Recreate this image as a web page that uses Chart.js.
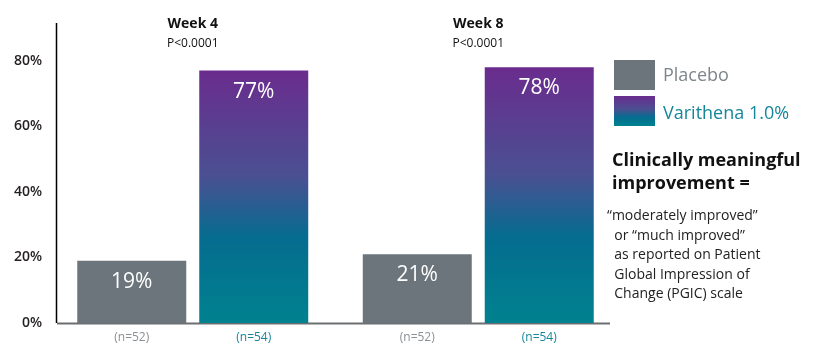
<!DOCTYPE html>
<html>
<head>
<meta charset="utf-8">
<script src="https://cdn.jsdelivr.net/npm/chart.js@4.4.1/dist/chart.umd.min.js"></script>
<style>
  html, body { margin: 0; padding: 0; background: #fff; }
  #wrap { position: relative; width: 817px; height: 344px; font-family: "Open Sans", "Noto Sans", sans-serif; }
  #chart { position: absolute; left: 0; top: 0; }
  .leg-box { position: absolute; left: 614px; width: 41px; height: 30px; }
  .leg-txt { position: absolute; left: 663px; font-size: 18px; line-height: 20px; }
  #note-title { position: absolute; left: 612px; top: 148px; font-size: 18px; font-weight: 700; line-height: 23px; color: #111; }
  #note-body { position: absolute; left: 607px; top: 205px; font-size: 14px; line-height: 19.5px; color: #222; white-space: pre; }
</style>
</head>
<body>
<div id="wrap">
  <canvas id="chart" width="817" height="344"></canvas>
  <div class="leg-box" style="top:60px;background:#6b757b"></div>
  <div class="leg-txt" style="top:64px;color:#7d868b">Placebo</div>
  <div class="leg-box" style="top:96px;background:linear-gradient(#6a2c8e 0%, #4a5092 45%, #056c8f 70%, #00828f 100%)"></div>
  <div class="leg-txt" style="top:102px;color:#14879a;font-size:18px">Varithena 1.0%</div>
  <div id="note-title">Clinically meaningful<br>improvement =</div>
  <div id="note-body">“moderately improved”
  or “much improved”
  as reported on Patient
  Global Impression of
  Change (PGIC) scale</div>
</div>
<script>
// data
const weeks = ['Week 4', 'Week 8'];
const pValues = ['P<0.0001', 'P<0.0001'];
const placebo = [19, 21];
const varithena = [77, 78];
const nPlacebo = ['(n=52)', '(n=52)'];
const nVarithena = ['(n=54)', '(n=54)'];
const yTicks = [0, 20, 40, 60, 80];

const FONT = '"Open Sans", "Noto Sans", sans-serif';

function barGradient(context) {
  const chart = context.chart;
  const { ctx, chartArea, scales } = chart;
  if (!chartArea) return '#00828f';
  const top = scales.y.getPixelForValue(context.raw);
  const bottom = scales.y.getPixelForValue(0);
  const g = ctx.createLinearGradient(0, top, 0, bottom);
  g.addColorStop(0, '#6a2c8e');
  g.addColorStop(0.42, '#4a5092');
  g.addColorStop(0.66, '#056c8f');
  g.addColorStop(1, '#00828f');
  return g;
}

// axis lines, group headers, value labels, n labels
const extras = {
  id: 'extras',
  beforeDatasetsDraw(chart) {
    const { ctx, chartArea, scales } = chart;
    ctx.save();
    const y0 = scales.y.getPixelForValue(0);
    ctx.strokeStyle = '#6d6e70';
    ctx.lineWidth = 2;
    ctx.beginPath();
    ctx.moveTo(chartArea.left + 7, y0 + 0.5);
    ctx.lineTo(chartArea.right - 11, y0 + 0.5);
    ctx.stroke();
    ctx.strokeStyle = '#000';
    ctx.lineWidth = 1.5;
    ctx.beginPath();
    ctx.moveTo(chartArea.left + 6.5, chartArea.top);
    ctx.lineTo(chartArea.left + 6.5, y0);
    ctx.stroke();
    ctx.restore();
  },
  afterDatasetsDraw(chart) {
    const { ctx, scales } = chart;
    ctx.save();
    ctx.textAlign = 'center';
    ctx.textBaseline = 'middle';
    weeks.forEach((w, i) => {
      const x = scales.x.getPixelForValue(i);
      ctx.fillStyle = '#111';
      ctx.font = '700 14px ' + FONT;
      ctx.fillText(w, x, 24);
      ctx.font = '400 12px ' + FONT;
      ctx.fillText(pValues[i], x, 44);
    });
    const nLabels = [nPlacebo, nVarithena];
    const nColors = ['#8a9094', '#14879a'];
    chart.data.datasets.forEach((ds, di) => {
      chart.getDatasetMeta(di).data.forEach((bar, i) => {
        ctx.fillStyle = '#fff';
        ctx.font = '500 21px ' + FONT;
        ctx.fillText(ds.data[i] + '%', bar.x, bar.y + 21);
        ctx.fillStyle = nColors[di];
        ctx.font = '400 12px ' + FONT;
        ctx.fillText(nLabels[di][i], bar.x, 338);
      });
    });
    ctx.restore();
  }
};

new Chart(document.getElementById('chart'), {
  type: 'bar',
  data: {
    labels: weeks,
    datasets: [
      { label: 'Placebo', data: placebo, backgroundColor: '#6b757b' },
      { label: 'Varithena 1.0%', data: varithena, backgroundColor: barGradient }
    ]
  },
  options: {
    responsive: false,
    animation: false,
    layout: { padding: { top: 23, right: 196, bottom: 21, left: 0 } },
    datasets: { bar: { categoryPercentage: 0.8546, barPercentage: 0.8934 } },
    plugins: { legend: { display: false }, tooltip: { enabled: false } },
    scales: {
      x: {
        afterFit: s => { s.height = 0; },
        grid: { display: false },
        border: { display: false },
        ticks: { display: false }
      },
      y: {
        min: 0,
        max: 91.5,
        afterFit: s => { s.width = 50; },
        afterBuildTicks: s => { s.ticks = yTicks.map(v => ({ value: v })); },
        grid: { display: false, drawTicks: false },
        border: { display: false },
        ticks: {
          padding: 8,
          color: '#231f20',
          font: { family: FONT, size: 14, weight: '600' },
          callback: v => v + '%'
        }
      }
    }
  },
  plugins: [extras]
});
</script>
</body>
</html>
